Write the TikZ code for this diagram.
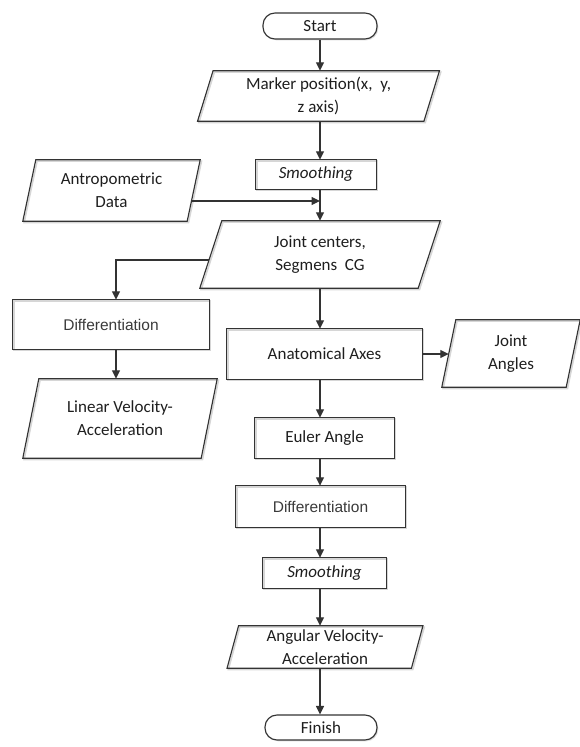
\documentclass[tikz,border=0pt]{standalone}
\usepackage{fontspec}
\setmainfont{Carlito}
\newfontfamily\arialf{Liberation Sans}
\usetikzlibrary{arrows.meta,calc,shapes.misc,shadows}
\definecolor{lc}{HTML}{333333}
\definecolor{txt}{HTML}{1E1E1E}
\definecolor{dtxt}{HTML}{3A3A3A}
\definecolor{shd}{HTML}{D6D6D6}
\newcommand\boxpath[4]{%
  \draw[#1] ($(#2.north west)+(#3/2+#4,#4)$) -- ($(#2.north east)+(#3/2+#4,#4)$) -- ($(#2.south east)+(-#3/2+#4,#4)$) -- ($(#2.south west)+(-#3/2+#4,#4)$) -- cycle;}
\newcommand\flowbox[2]{\boxpath{shadowline}{#1}{#2}{1.3}\boxpath{outline}{#1}{#2}{0}}
\tikzset{
  lbl/.style={font=\fontsize{17}{23}\selectfont, align=center, inner sep=0pt, text=txt},
  diffl/.style={font=\arialf\fontsize{15.5}{19}\selectfont, align=center, inner sep=0pt, text=dtxt},
  outline/.style={draw=lc, line width=1.15pt, line join=miter},
  shadowline/.style={draw=shd, line width=1.6pt},
  term/.style={lbl, draw=lc, line width=1.15pt, fill=white, rounded corners=12pt,
    drop shadow={shadow xshift=1.3pt, shadow yshift=-1.3pt, fill=shd, opacity=0.8}},
  arr/.style={-{Triangle[length=8.5pt,width=8pt]}, line width=1.15pt, draw=lc},
  conn/.style={line width=1.15pt, draw=lc}
}
\begin{document}
\begin{tikzpicture}[x=1pt,y=-1pt]
\useasboundingbox (0,0) rectangle (579,747);
\coordinate (spine) at (320,0);
\coordinate (lspine) at (116,0);
% nodes
\node[term, minimum width=114pt, minimum height=26pt] (start) at (320,26) {Start};
\node[lbl, minimum width=226pt, minimum height=50pt] (marker) at (318.5,96) {Marker position(x,~ y,\\ z axis)};
\node[lbl, minimum width=120pt, minimum height=29pt] (smooth1) at (316,174.5) {\textit{Smoothing}};
\node[lbl, minimum width=164pt, minimum height=61pt] (anth) at (111.5,190.5) {Antropometric\\Data};
\node[lbl, minimum width=218pt, minimum height=67pt] (joint) at (320,254.5) {Joint centers,\\Segmens~ CG};
\node[diffl, minimum width=196pt, minimum height=49pt] (diff1) at (111,324.5) {Differentiation};
\node[lbl, minimum width=178pt, minimum height=79pt] (linear) at (120,418.5) {Linear Velocity-\\Acceleration};
\node[lbl, minimum width=195pt, minimum height=50pt] (anat) at (324.5,354) {Anatomical Axes};
\node[lbl, minimum width=124pt, minimum height=67pt] (jangles) at (511,353.5) {Joint\\Angles};
\node[lbl, minimum width=139pt, minimum height=40pt] (euler) at (324.5,438) {Euler Angle};
\node[diffl, minimum width=169pt, minimum height=41pt] (diff2) at (320.5,506.5) {Differentiation};
\node[lbl, minimum width=123pt, minimum height=30pt] (smooth2) at (324.5,573) {\textit{Smoothing}};
\node[lbl, minimum width=184pt, minimum height=42pt] (angular) at (325,647) {Angular Velocity-\\Acceleration};
\node[term, minimum width=112pt, minimum height=25pt] (finish) at (321,727.5) {Finish};
% outlines
\flowbox{marker}{15.5}
\flowbox{smooth1}{0}
\flowbox{anth}{13}
\flowbox{joint}{22}
\flowbox{diff1}{0}
\flowbox{linear}{16}
\flowbox{anat}{0}
\flowbox{jangles}{14}
\flowbox{euler}{0}
\flowbox{diff2}{0}
\flowbox{smooth2}{0}
\flowbox{angular}{11.5}
% connectors
\draw[arr] (start.south -| spine) -- (marker.north -| spine);
\draw[arr] (marker.south -| spine) -- (smooth1.north -| spine);
\draw[arr] (smooth1.south -| spine) -- (joint.north -| spine);
\coordinate (anthout) at ($(anth.east)+(-2,10.5)$);
\draw[arr] (anthout) -- (anthout -| spine);
\coordinate (jointout) at ($(joint.west)+(-1.8,5.5)$);
\draw[arr] (jointout) -- (jointout -| lspine) -- (diff1.north -| lspine);
\draw[arr] (diff1.south -| lspine) -- (linear.north -| lspine);
\draw[arr] (joint.south -| spine) -- (anat.north -| spine);
\draw[arr] (anat.east) -- (anat.east -| jangles.west);
\draw[arr] (anat.south -| spine) -- (euler.north -| spine);
\draw[arr] (euler.south -| spine) -- (diff2.north -| spine);
\draw[arr] (diff2.south -| spine) -- (smooth2.north -| spine);
\draw[arr] (smooth2.south -| spine) -- (angular.north -| spine);
\draw[arr] (angular.south -| spine) -- (finish.north -| spine);
\end{tikzpicture}
\end{document}
